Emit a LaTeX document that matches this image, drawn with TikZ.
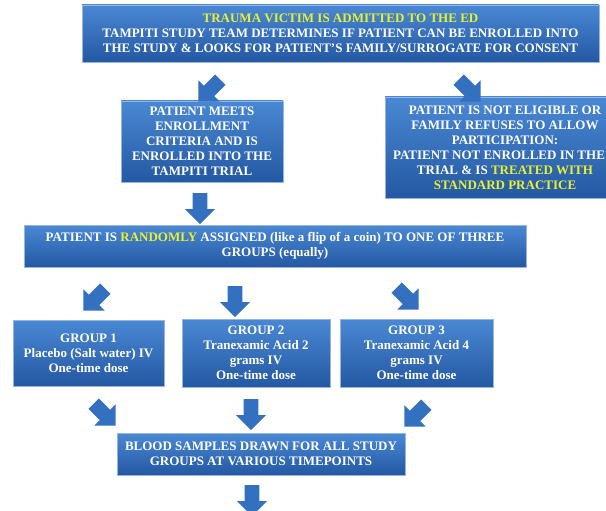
\documentclass[tikz,border=0pt]{standalone}
\usepackage{fontspec}
\setmainfont{Liberation Serif}
\usetikzlibrary{shapes.arrows}
\definecolor{boxtop}{RGB}{74,136,212}
\definecolor{boxbot}{RGB}{36,88,162}
\definecolor{boxedge}{RGB}{150,182,225}
\definecolor{arrowc}{RGB}{52,112,192}
\definecolor{hl}{RGB}{232,240,50}
\begin{document}
\begin{tikzpicture}[x=1pt,y=-1pt,
  box/.style={draw=boxedge, line width=0.6pt, top color=boxtop, bottom color=boxbot,
    text=white, font=\bfseries\fontsize{13}{15}\selectfont, align=center, inner sep=0pt},
  blk/.style={single arrow, draw=none, fill=arrowc, minimum height=31pt, minimum width=30pt,
    single arrow head extend=7.5pt, single arrow head indent=0pt, inner xsep=0pt, inner ysep=7pt}]
\useasboundingbox (0,0) rectangle (606,511);
\clip (0,0) rectangle (606,511);
\fill[white] (0,0) rectangle (606,511);

\node[box, minimum width=517pt, minimum height=57pt] (top) at (340.5,33.5)
  {\textcolor{hl}{TRAUMA VICTIM IS ADMITTED TO THE ED}\\
   TAMPITI STUDY TEAM DETERMINES IF PATIENT CAN BE ENROLLED INTO\\
   THE STUDY \& LOOKS FOR PATIENT'S FAMILY/SURROGATE FOR CONSENT};

\node[box, minimum width=162pt, minimum height=81pt] (meets) at (202,141.5)
  {PATIENT MEETS\\ENROLLMENT\\CRITERIA AND IS\\ENROLLED INTO THE\\TAMPITI TRIAL};

\node[box, minimum width=240pt, minimum height=101pt] (noelig) at (505,147.5)
  {PATIENT IS NOT ELIGIBLE OR\\FAMILY REFUSES TO ALLOW\\PARTICIPATION:\\
   \hspace*{-12pt}PATIENT NOT ENROLLED IN THE\\TRIAL \& IS \textcolor{hl}{TREATED WITH}\\
   \textcolor{hl}{STANDARD PRACTICE}};

\node[box, minimum width=502pt, minimum height=42pt] (rand) at (275,246)
  {PATIENT IS \textcolor{hl}{RANDOMLY} ASSIGNED (like a flip of a coin) TO ONE OF THREE\\GROUPS (equally)};

\node[box, minimum width=151pt, minimum height=66pt] (g1) at (88.5,353)
  {GROUP 1\\Placebo (Salt water) IV\\One-time dose};
\node[box, minimum width=148pt, minimum height=68pt] (g2) at (256,353)
  {GROUP 2\\Tranexamic Acid 2\\grams IV\\One-time dose};
\node[box, minimum width=153pt, minimum height=68pt] (g3) at (416.5,353)
  {GROUP 3\\Tranexamic Acid 4\\grams IV\\One-time dose};

\node[box, minimum width=288pt, minimum height=42pt] (blood) at (261,454)
  {BLOOD SAMPLES DRAWN FOR ALL STUDY\\GROUPS AT VARIOUS TIMEPOINTS};

\node[blk, rotate=-135] (a1) at (212,88) {};
\node[blk, rotate=-45] (a2) at (467,88) {};
\node[blk, rotate=-90] (a3) at (200,205) {};
\node[blk, rotate=-135] (a4) at (97,297) {};
\node[blk, rotate=-90] (a5) at (235,298) {};
\node[blk, rotate=-45] (a6) at (405,296) {};
\node[blk, rotate=-45] (b1) at (102,412) {};
\node[blk, rotate=-90] (b2) at (251,411) {};
\node[blk, rotate=-135] (b3) at (418,413) {};
\node[blk, rotate=-90] (b4) at (252,497) {};
\end{tikzpicture}
\end{document}
